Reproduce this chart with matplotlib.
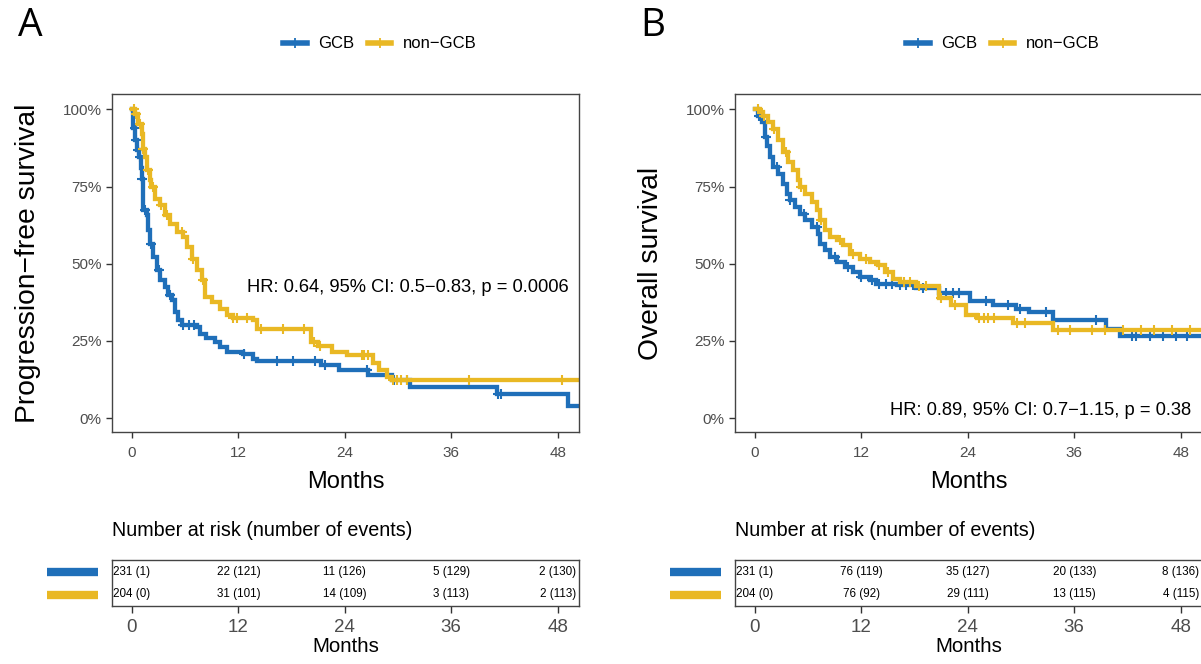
import numpy as np
import matplotlib
matplotlib.use('Agg')
import matplotlib.pyplot as plt
from matplotlib.lines import Line2D

plt.rcParams['font.family'] = ['Liberation Sans', 'DejaVu Sans']

# colores de los grupos
azul = '#1F6FB9'
amarillo = '#E9B824'
grupos = ['GCB', 'non\u2212GCB']

# ---- Panel A: supervivencia libre de progresion (meses, fraccion) ----
pfs_gcb_t = [0, 0.15, 0.34, 0.53, 0.83, 0.98, 1.09, 1.2, 1.28, 1.65, 1.84, 2.03, 2.4, 2.78,
             3.15, 3.72, 4.1, 4.47, 4.85, 5.22, 5.6, 7.3, 7.66, 8.4, 9.35, 9.9, 10.67, 12.5,
             13.7, 14.05, 21.3, 23.3, 26.6, 29.3, 31.3, 41.2, 49.2, 50.5]
pfs_gcb_s = [1.0, 0.94, 0.90, 0.867, 0.846, 0.81, 0.776, 0.74, 0.673, 0.657, 0.608, 0.565,
             0.522, 0.479, 0.447, 0.425, 0.398, 0.382, 0.344, 0.317, 0.301, 0.296, 0.274,
             0.258, 0.247, 0.231, 0.215, 0.209, 0.193, 0.185, 0.172, 0.155, 0.139, 0.123,
             0.101, 0.078, 0.04, 0.04]
pfs_gcb_cens = [0.3, 0.5, 0.7, 0.9, 1.1, 1.5, 2.2, 3.0, 4.3, 5.8, 6.4, 7.0, 12.6, 16.3, 18.1,
                20.6, 21.8, 26.5, 29.5, 31.0, 41.3, 41.6]

pfs_non_t = [0, 0.34, 0.71, 1.09, 1.28, 1.46, 1.65, 2.03, 2.2, 2.6, 3.15, 3.72, 4.28, 5.03,
             5.78, 6.16, 6.72, 7.29, 7.85, 8.23, 8.98, 9.9, 10.67, 11.4, 13.7, 14.05, 20.2,
             21.0, 22.5, 24.2, 27.2, 27.9, 28.8, 29.3, 50.5]
pfs_non_s = [1.0, 0.986, 0.954, 0.921, 0.873, 0.846, 0.803, 0.77, 0.749, 0.711, 0.689,
             0.657, 0.63, 0.603, 0.587, 0.554, 0.517, 0.479, 0.447, 0.393, 0.376, 0.355,
             0.333, 0.323, 0.317, 0.29, 0.245, 0.233, 0.215, 0.204, 0.178, 0.155, 0.134,
             0.125, 0.125]
pfs_non_cens = [0.2, 0.5, 0.9, 1.3, 1.8, 2.4, 3.3, 4.0, 5.6, 6.9, 8.0, 11.4, 11.8, 13.0,
                14.6, 17.0, 19.4, 20.5, 21.2, 25.9, 26.2, 26.6, 29.4, 29.9, 30.3, 31.0,
                38.0, 48.5]

# ---- Panel B: supervivencia global ----
os_gcb_t = [0, 0.38, 0.75, 1.13, 1.31, 1.69, 2.07, 2.63, 3.19, 3.57, 3.94, 4.5, 5.07, 5.63,
            6.38, 7.14, 7.32, 7.89, 8.45, 9.2, 10.14, 11.08, 11.83, 12.96, 13.7, 15.96,
            18.2, 20.8, 24.2, 26.8, 29.4, 30.9, 33.6, 39.6, 41.1, 50.5]
os_gcb_s = [1.0, 0.98, 0.959, 0.91, 0.883, 0.846, 0.813, 0.792, 0.759, 0.727, 0.705, 0.684,
            0.662, 0.641, 0.619, 0.598, 0.565, 0.544, 0.522, 0.506, 0.49, 0.474, 0.457,
            0.447, 0.436, 0.43, 0.42, 0.404, 0.378, 0.366, 0.355, 0.343, 0.317, 0.29,
            0.266, 0.266]
os_gcb_cens = [0.5, 1.2, 2.5, 4.0, 5.5, 7.0, 9.0, 10.5, 12.0, 13.2, 14.0, 14.8, 15.5, 16.3,
               17.0, 17.8, 19.0, 21.5, 22.3, 23.0, 26.0, 28.5, 29.9, 32.8, 38.5, 42.5,
               43.0, 44.5, 46.0, 47.5, 48.7]

os_non_t = [0, 0.56, 0.94, 1.5, 2.07, 2.63, 3.19, 3.76, 4.32, 4.88, 5.07, 5.63, 6.38, 6.95,
            7.32, 7.89, 8.45, 9.2, 9.95, 10.7, 11.83, 12.96, 13.9, 14.65, 15.6, 16.34,
            18.2, 20.8, 22.1, 23.8, 25.0, 29.1, 33.6, 50.5]
os_non_s = [1.0, 0.991, 0.98, 0.959, 0.937, 0.9, 0.862, 0.83, 0.803, 0.77, 0.749, 0.727,
            0.7, 0.673, 0.641, 0.608, 0.587, 0.576, 0.56, 0.533, 0.517, 0.506, 0.495,
            0.474, 0.452, 0.441, 0.428, 0.388, 0.366, 0.333, 0.324, 0.307, 0.285, 0.285]
os_non_cens = [0.3, 1.0, 2.2, 3.5, 5.2, 7.5, 9.6, 11.0, 12.5, 14.0, 15.0, 16.8, 17.5, 18.5,
               19.3, 21.0, 22.5, 25.3, 25.8, 26.3, 27.0, 29.5, 30.5, 34.2, 35.5, 38.0,
               39.5, 41.5, 43.5, 45.0, 47.0, 49.0]

# ---- tablas de numero en riesgo (numero de eventos) ----
meses_tabla = [0, 12, 24, 36, 48]
pfs_riesgo_gcb = [231, 22, 11, 5, 2]
pfs_eventos_gcb = [1, 121, 126, 129, 130]
pfs_riesgo_non = [204, 31, 14, 3, 2]
pfs_eventos_non = [0, 101, 109, 113, 113]
os_riesgo_gcb = [231, 76, 35, 20, 8]
os_eventos_gcb = [1, 119, 127, 133, 136]
os_riesgo_non = [204, 76, 29, 13, 4]
os_eventos_non = [0, 92, 111, 115, 115]

hr_pfs = 'HR: 0.64, 95% CI: 0.5\u22120.83, p = 0.0006'
hr_os = 'HR: 0.89, 95% CI: 0.7\u22121.15, p = 0.38'

W, H = 1201, 664
fig = plt.figure(figsize=(W / 100, H / 100), dpi=100)


def caja(x0, y0, x1, y1):
    # convierte pixeles (arriba-izquierda) a fraccion de figura
    return [x0 / W, 1 - y1 / H, (x1 - x0) / W, (y1 - y0) / H]


def estilo_ejes(ax):
    for sp in ax.spines.values():
        sp.set_color('#444444')
        sp.set_linewidth(1.0)
    ax.tick_params(colors='#333333', labelcolor='#4D4D4D', length=4, width=1.0)


def curva(ax, t, s, cens, color):
    t = np.array(t)
    s = np.array(s)
    ax.step(t, s, where='post', color=color, lw=3.1, solid_joinstyle='miter')
    c = np.array(cens)
    sc = s[np.searchsorted(t, c, side='right') - 1]
    ax.plot(c, sc, '+', color=color, ms=7, mew=1.5)


def panel(x0, letra, ylabel, datos, hr_txt, hr_y, riesgo):
    ax = fig.add_axes(caja(x0, 94, x0 + 467, 432))
    for (t, s, cens), color in zip(datos, [azul, amarillo]):
        curva(ax, t, s, cens, color)
    ax.set_xlim(-2.25, 50.4)
    ax.set_ylim(-0.045, 1.05)
    ax.set_xticks(meses_tabla)
    ax.set_yticks([0, 0.25, 0.5, 0.75, 1.0])
    ax.set_yticklabels(['0%', '25%', '50%', '75%', '100%'])
    ax.tick_params(labelsize=11)
    ax.tick_params(axis='x', pad=6)
    estilo_ejes(ax)
    ax.set_xlabel('Months', fontsize=17, labelpad=8)
    ax.set_ylabel(ylabel, fontsize=20.3, va='center')
    ax.yaxis.set_label_coords(-0.18, 0.5)
    ax.text(49.2, hr_y, hr_txt, ha='right', va='center', fontsize=13.2)

    handles = [Line2D([], [], color=c, lw=4, marker='+', ms=7, mew=1.3)
               for c in [azul, amarillo]]
    ax.legend(handles, grupos, loc='center', bbox_to_anchor=(0.574, 1.148), ncol=2,
              frameon=False, fontsize=12, handlelength=1.4, columnspacing=0.8,
              handletextpad=0.7)
    fig.text((x0 - 82) / W, 1 - 26 / H, letra, fontsize=28, ha='center', va='center',
             family=['Open Sans', 'DejaVu Sans'])

    # tabla de riesgo
    tb = fig.add_axes(caja(x0, 560, x0 + 467, 606))
    tb.set_xlim(-2.25, 50.4)
    tb.set_ylim(0.5, 2.5)
    filas = [(2, riesgo[0], riesgo[1]), (1, riesgo[2], riesgo[3])]
    for fila, n, ev in filas:
        for m, a, b in zip(meses_tabla, n, ev):
            tb.text(m, fila, f'{a} ({b})', ha='center', va='center', fontsize=8.4)
    tb.set_yticks([])
    tb.set_xticks(meses_tabla)
    estilo_ejes(tb)
    tb.tick_params(labelsize=13.5, length=5, pad=4)
    tb.set_xlabel('Months', fontsize=14.8, labelpad=1)
    fig.text(x0 / W, 1 - 530 / H, 'Number at risk (number of events)', fontsize=14.2,
             ha='left', va='center')
    for fila, color in zip([2, 1], [azul, amarillo]):
        tb.plot([-0.14, -0.03], [fila, fila], transform=tb.get_yaxis_transform(),
                color=color, lw=6, solid_capstyle='butt', clip_on=False)


panel(112, 'A', 'Progression\u2212free survival',
      [(pfs_gcb_t, pfs_gcb_s, pfs_gcb_cens), (pfs_non_t, pfs_non_s, pfs_non_cens)],
      hr_pfs, 0.424,
      [pfs_riesgo_gcb, pfs_eventos_gcb, pfs_riesgo_non, pfs_eventos_non])

panel(735, 'B', 'Overall survival',
      [(os_gcb_t, os_gcb_s, os_gcb_cens), (os_non_t, os_non_s, os_non_cens)],
      hr_os, 0.026,
      [os_riesgo_gcb, os_eventos_gcb, os_riesgo_non, os_eventos_non])

fig.savefig('out.png', dpi=100)
